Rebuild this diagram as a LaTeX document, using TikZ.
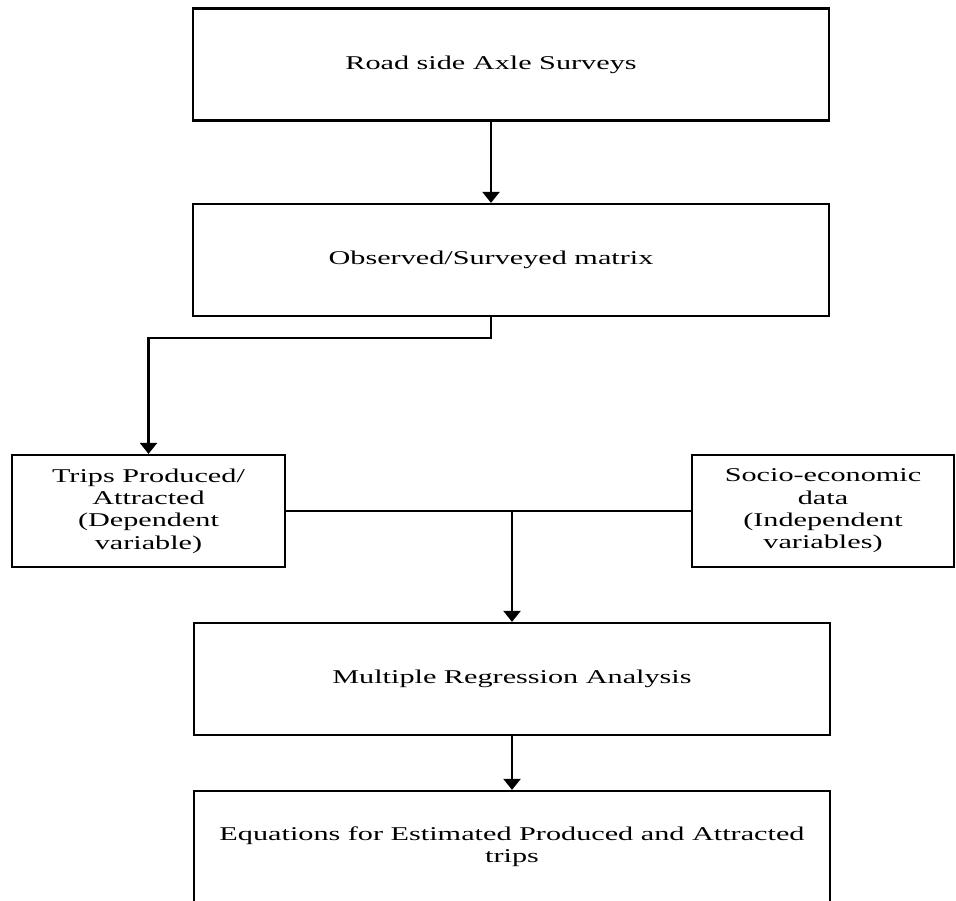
\documentclass[tikz,border=0pt]{standalone}
\usepackage{fontspec}
\setmainfont{Liberation Serif}[FakeStretch=1.55]
\usetikzlibrary{arrows.meta}

\begin{document}
\begin{tikzpicture}[x=1pt,y=-1pt,
  font=\fontsize{19.5}{22.4}\selectfont,
  box/.style={draw,line width=2.2pt,minimum height=112pt,inner sep=0pt,align=center},
  widebox/.style={box,minimum width=636pt},
  arr/.style={line width=2.2pt,-{Triangle[width=17pt,length=11pt]}},
  link/.style={line width=2.2pt}]
\clip (0,0) rectangle (956,901);

% boxes
\node[widebox,label={[xshift=-20pt]center:Road side Axle Surveys}] (survey) at (511,64.5) {};
\node[widebox,label={[xshift=-20pt]center:Observed/Surveyed matrix}] (observed) at (511,260) {};
\node[box,minimum width=273pt] (trips) at (148.5,511) {Trips Produced/\\Attracted\\(Dependent\\variable)};
\node[box,minimum width=262pt] (socio) at (823,511) {Socio-economic\\data\\(Independent\\variables)};
\node[widebox] (regression) at (512,679) {Multiple Regression Analysis};
\node[widebox] (equations) at (512,847) {Equations for Estimated Produced and Attracted\\trips};

% connectors
\draw[arr] ([xshift=-20pt]survey.south) -- ([xshift=-20pt]observed.north);
\draw[arr] ([xshift=-20pt]observed.south) -- ++(0,21) -| (trips.north);
\draw[link] (trips.east) -- (socio.west);
\coordinate (join) at (regression.north |- trips.east);
\draw[arr] (join) -- (regression.north);
\draw[arr] (regression.south) -- (equations.north);
\end{tikzpicture}
\end{document}
